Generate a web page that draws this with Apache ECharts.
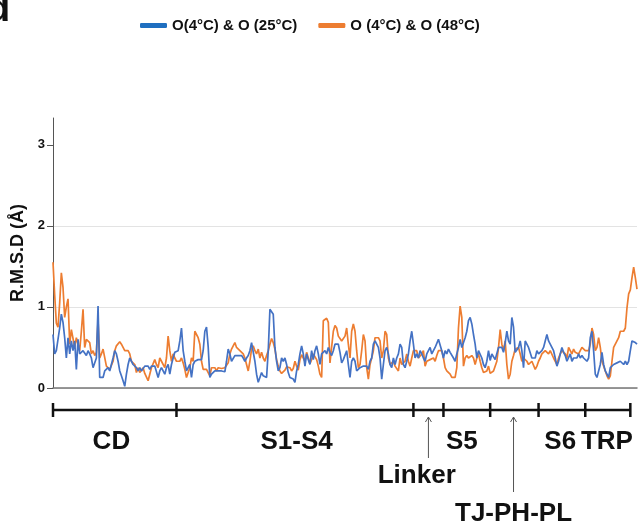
<!DOCTYPE html>
<html>
<head>
<meta charset="utf-8">
<script src="https://cdn.jsdelivr.net/npm/echarts@6/dist/echarts.min.js"></script>
<style>
  html, body { margin: 0; padding: 0; background: #fff; }
  #chart { width: 639px; height: 526px; }
</style>
</head>
<body>
<div id="chart"></div>
<script>
// RMSD per residue, O(4°C) vs O(25°C)
const rmsd25 = [
  0.66,0.42,0.46,0.48,0.74,0.91,0.81,0.62,0.37,0.62,
  0.42,0.58,0.46,0.58,0.23,0.60,0.42,0.40,0.46,0.44,
  0.40,0.46,0.42,0.37,0.25,0.27,0.37,1.01,0.13,0.13,
  0.13,0.21,0.23,0.25,0.21,0.29,0.37,0.46,0.42,0.33,
  0.21,0.15,0.09,0.02,0.17,0.29,0.37,0.33,0.29,0.27,
  0.25,0.21,0.25,0.21,0.23,0.27,0.27,0.27,0.23,0.27,
  0.25,0.27,0.25,0.13,0.21,0.25,0.27,0.17,0.25,0.29,
  0.17,0.29,0.37,0.44,0.42,0.46,0.58,0.74,0.46,0.33,
  0.21,0.19,0.29,0.13,0.29,0.33,0.35,0.35,
  0.37,0.35,0.46,0.70,0.75,0.51,0.13,0.17,0.19,0.21,
  0.19,0.21,0.20,0.21,0.20,0.20,0.33,0.48,0.42,0.33,
  0.33,0.40,0.42,0.40,0.42,0.40,0.37,0.33,0.37,0.40,
  0.46,0.56,0.54,0.33,0.17,0.07,0.13,0.19,0.15,0.17,
  0.13,0.46,0.97,0.99,0.91,0.50,0.33,0.21,0.25,0.37,
  0.33,0.37,0.29,0.19,0.13,0.15,0.11,0.07,0.21,0.29,
  0.42,0.52,0.42,0.27,0.42,0.35,0.29,0.46,0.35,0.46,
  0.52,0.42,0.29,0.42,0.44,0.46,0.42,0.50,0.44,0.40,
  0.46,0.54,0.56,0.54,0.44,0.31,0.35,
  0.37,0.46,0.29,0.13,0.33,0.37,0.33,0.21,0.23,0.25,
  0.25,0.27,0.25,0.27,0.23,0.33,0.37,0.54,0.58,0.60,
  0.50,0.37,0.11,0.29,0.46,0.50,0.42,0.29,0.25,0.37,
  0.29,0.37,0.42,0.54,0.50,0.29,0.25,0.33,0.42,0.58,
  0.70,0.54,0.37,0.42,0.37,0.46,0.42,0.37,0.33,0.42,
  0.46,0.50,0.42,0.46,0.50,0.50,0.60,0.58,0.46,0.37,
  0.46,0.42,0.48,0.44,0.46,0.37,0.33,0.42,0.50,0.60,
  0.50,0.50,0.62,0.70,0.83,0.87,0.79,0.66,0.54,0.37,
  0.46,0.48,0.37,0.29,0.25,0.33,0.46,
  0.34,0.42,0.42,0.35,0.37,0.50,0.50,0.50,0.44,0.56,
  0.70,0.58,0.54,0.87,0.75,0.44,0.42,0.50,0.58,0.46,
  0.25,0.58,0.54,0.50,0.50,0.37,0.35,0.37,0.46,0.42,
  0.44,0.46,0.50,0.58,0.66,0.58,0.54,0.50,0.46,0.37,
  0.27,0.33,0.42,0.50,0.44,0.40,0.33,0.31,0.42,0.33,
  0.37,0.35,0.37,0.42,0.37,0.40,0.37,0.37,0.33,0.37,
  0.62,0.70,0.46,0.17,0.13,0.15,0.29,0.44,0.29,0.21,
  0.17,0.13,0.25,0.27,0.29,0.27,0.31,0.29,0.33,0.31,
  0.29,0.33,0.29,0.33,0.46,0.58,0.58,0.56,0.54
];

// RMSD per residue, O(4°C) vs O(48°C)
const rmsd48 = [
  1.55,1.15,0.80,0.75,1.05,1.42,1.24,0.87,1.00,1.10,
  0.54,0.72,0.74,0.50,0.62,0.54,0.46,0.70,0.97,0.50,
  0.60,0.58,0.56,0.42,0.46,0.40,0.44,0.83,0.37,0.42,
  0.48,0.50,0.27,0.29,0.23,0.25,0.33,0.46,0.52,0.50,
  0.57,0.54,0.50,0.46,0.48,0.46,0.42,0.33,0.31,0.29,
  0.19,0.25,0.19,0.21,0.25,0.18,0.19,0.09,0.17,0.25,
  0.23,0.35,0.29,0.25,0.37,0.33,0.35,0.25,0.37,0.64,
  0.46,0.33,0.42,0.37,0.33,0.35,0.33,0.37,0.31,0.23,
  0.13,0.19,0.25,0.37,0.33,0.70,0.66,0.62,
  0.54,0.33,0.23,0.21,0.23,0.21,0.15,0.25,0.23,0.25,
  0.21,0.25,0.23,0.24,0.23,0.25,0.27,0.31,0.42,0.48,
  0.52,0.56,0.50,0.52,0.46,0.48,0.42,0.37,0.29,0.21,
  0.33,0.48,0.52,0.46,0.42,0.48,0.37,0.44,0.37,0.33,
  0.40,0.46,0.54,0.61,0.56,0.48,0.35,0.27,0.21,0.18,
  0.17,0.22,0.26,0.28,0.25,0.21,0.24,0.33,0.27,0.22,
  0.35,0.41,0.37,0.33,0.44,0.37,0.30,0.35,0.42,0.44,
  0.35,0.27,0.17,0.13,0.83,0.85,0.86,0.81,0.31,0.33,
  0.70,0.77,0.74,0.64,0.61,0.58,0.60,
  0.64,0.74,0.54,0.37,0.70,0.79,0.70,0.46,0.25,0.29,
  0.46,0.66,0.58,0.25,0.11,0.29,0.37,0.46,0.62,0.60,
  0.62,0.58,0.37,0.46,0.70,0.66,0.37,0.29,0.31,0.33,
  0.27,0.29,0.21,0.37,0.29,0.27,0.33,0.42,0.33,0.27,
  0.37,0.46,0.46,0.46,0.37,0.35,0.42,0.46,0.27,0.33,
  0.31,0.35,0.33,0.37,0.33,0.40,0.46,0.48,0.46,0.37,
  0.25,0.21,0.23,0.17,0.13,0.11,0.13,0.25,0.74,1.01,
  0.87,0.27,0.37,0.40,0.37,0.37,0.40,0.37,0.29,0.37,
  0.42,0.33,0.25,0.19,0.17,0.21,0.27,
  0.18,0.19,0.21,0.23,0.33,0.50,0.72,0.54,0.46,0.58,
  0.29,0.11,0.17,0.33,0.40,0.48,0.46,0.50,0.42,0.33,
  0.37,0.35,0.33,0.29,0.27,0.33,0.31,0.23,0.27,0.33,
  0.37,0.42,0.40,0.46,0.48,0.42,0.46,0.44,0.37,0.33,
  0.29,0.37,0.42,0.46,0.48,0.42,0.37,0.50,0.46,0.42,
  0.48,0.44,0.46,0.42,0.46,0.50,0.48,0.46,0.44,0.46,
  0.54,0.74,0.66,0.46,0.50,0.62,0.50,0.33,0.35,0.21,
  0.15,0.11,0.15,0.33,0.50,0.52,0.58,0.62,0.70,0.70,
  0.70,0.74,0.99,1.16,1.21,1.36,1.49,1.36,1.22
];

const residues = rmsd25.map((v, i) => String(i + 1));
const yTicks = [0, 1, 2, 3];

// domain map under the axis (residue index positions)
const domainEdges = [0, 74, 216, 234, 262, 291, 319, 346];
const domainNames = ["CD", "S1-S4", "S5", "S6", "TRP"];
const domainLabelAt = [35, 146, 245, 304, 332];
const calloutNames = ["Linker", "TJ-PH-PL"];
const calloutArrowAt = [225, 276];
const calloutTextAt = [218, 276];

const FONT = '"Liberation Sans", Arial, sans-serif';
const chart = echarts.init(document.getElementById("chart"), null, { renderer: "canvas" });

chart.setOption({
  animation: false,
  backgroundColor: "#fff",
  legend: {
    left: 135,
    top: 13,
    itemWidth: 27,
    itemHeight: 5,
    itemGap: 21,
    icon: "roundRect",
    textStyle: { fontFamily: FONT, fontWeight: "bold", fontSize: 15, color: "#111" },
    data: [
      { name: "O(4°C) & O (25°C)", itemStyle: { color: "#1F6FC0" } },
      { name: "O (4°C) & O (48°C)", itemStyle: { color: "#ED7D31" } }
    ]
  },
  grid: { left: 53, right: 2, top: 118, bottom: 138, containLabel: false },
  xAxis: {
    type: "category",
    data: residues,
    boundaryGap: false,
    axisLine: { lineStyle: { color: "#777", width: 1.5 } },
    axisTick: { show: false },
    axisLabel: { show: false },
    splitLine: { show: false }
  },
  yAxis: {
    type: "value",
    min: 0,
    max: 3.33,
    interval: 0.5,
    name: "R.M.S.D (Å)",
    nameLocation: "middle",
    nameGap: 20,
    nameTextStyle: { fontFamily: FONT, fontWeight: "bold", fontSize: 18, color: "#111" },
    axisLine: { show: true, lineStyle: { color: "#555", width: 1 } },
    axisTick: { show: true, length: 6, customValues: yTicks, lineStyle: { color: "#555" } },
    axisLabel: {
      customValues: yTicks,
      margin: 8,
      fontFamily: FONT,
      fontWeight: "bold",
      fontSize: 13,
      color: "#111"
    },
    splitLine: { show: true, showMaxLine: false, lineStyle: { color: "#e3e3e3", width: 1 } }
  },
  series: [
    {
      name: "O (4°C) & O (48°C)",
      type: "line",
      data: rmsd48,
      showSymbol: false,
      color: "#ED7D31",
      lineStyle: { width: 1.7, color: "#ED7D31" },
      z: 2
    },
    {
      name: "O(4°C) & O (25°C)",
      type: "line",
      data: rmsd25,
      showSymbol: false,
      color: "#4472C4",
      lineStyle: { width: 1.7, color: "#4472C4" },
      z: 3
    }
  ]
});

// domain bar, labels and arrows, placed on the same x scale as the data
const px = (i) => chart.convertToPixel({ xAxisIndex: 0 }, i);
const barY = 410;
const black = "#111";
const g = [];
g.push({
  type: "text",
  style: { text: "d", x: -13, y: 30, verticalAlign: "bottom", font: "bold 38px " + FONT, fill: black }
});
g.push({
  type: "line",
  shape: { x1: px(domainEdges[0]), y1: barY, x2: px(domainEdges[domainEdges.length - 1]), y2: barY },
  style: { stroke: black, lineWidth: 2.5 }
});
domainEdges.forEach((e) => {
  g.push({
    type: "line",
    shape: { x1: px(e), y1: barY - 7, x2: px(e), y2: barY + 7 },
    style: { stroke: black, lineWidth: 2.5 }
  });
});
domainNames.forEach((n, k) => {
  g.push({
    type: "text",
    style: { text: n, x: px(domainLabelAt[k]), y: 442, align: "center", verticalAlign: "middle", font: "bold 26px " + FONT, fill: black }
  });
});
const arrowBottom = [458, 492];
const textRow = [476, 514];
calloutNames.forEach((n, k) => {
  const x = px(calloutArrowAt[k]);
  g.push({
    type: "line",
    shape: { x1: x, y1: barY + 7, x2: x, y2: arrowBottom[k] },
    style: { stroke: "#555", lineWidth: 1 }
  });
  g.push({
    type: "polyline",
    shape: { points: [[x - 3, barY + 12], [x, barY + 7], [x + 3, barY + 12]] },
    style: { stroke: "#555", lineWidth: 1, fill: null }
  });
  g.push({
    type: "text",
    style: { text: n, x: px(calloutTextAt[k]), y: textRow[k], align: "center", verticalAlign: "middle", font: "bold 26px " + FONT, fill: black }
  });
});
chart.setOption({ graphic: g });
</script>
</body>
</html>
